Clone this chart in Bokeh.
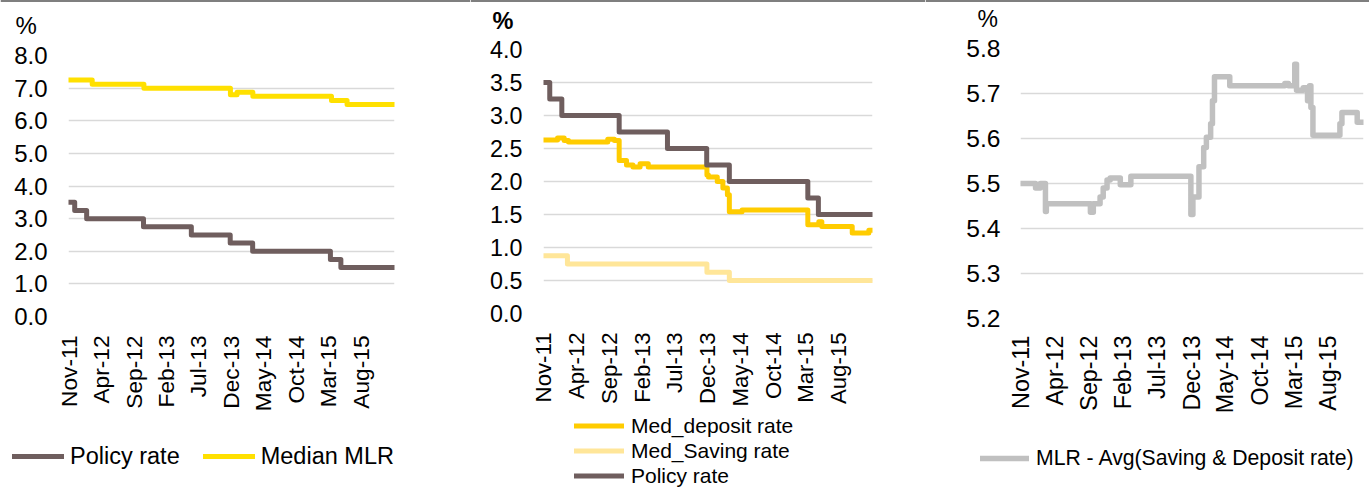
import math
import pandas as pd
from bokeh.plotting import figure
from bokeh.models import (Range1d, FixedTicker, Legend, LegendItem, Label, Span,
                          PrintfTickFormatter, DatetimeTickFormatter)
from bokeh.layouts import row, column
from bokeh.embed import file_html
from bokeh.resources import INLINE

FONT = "Liberation Sans"

# ---------------- data ----------------
start_date = "2011-11-01"
end_date = "2016-01-05"

tick_dates = ["2011-11-01", "2012-04-01", "2012-09-01", "2013-02-01", "2013-07-01",
              "2013-12-01", "2014-05-01", "2014-10-01", "2015-03-01", "2015-08-01"]
tick_labels = ["Nov-11", "Apr-12", "Sep-12", "Feb-13", "Jul-13",
               "Dec-13", "May-14", "Oct-14", "Mar-15", "Aug-15"]

policy_dates = ["2011-11-01", "2011-11-30", "2012-01-25", "2012-10-17", "2013-05-29",
                "2013-11-27", "2014-03-12", "2015-03-11", "2015-04-29"]
policy_rate = [3.5, 3.25, 3.0, 2.75, 2.5, 2.25, 2.0, 1.75, 1.5]

mlr_dates = ["2011-11-01", "2012-02-20", "2012-10-19", "2013-11-28", "2013-12-29",
             "2014-03-13", "2015-03-16", "2015-05-28"]
median_mlr = [7.25, 7.12, 7.0, 6.80, 6.87, 6.75, 6.62, 6.5]

dep_dates = ["2011-11-01", "2012-01-05", "2012-02-05", "2012-02-25", "2012-08-25",
             "2012-09-25", "2012-10-17", "2012-11-20", "2012-12-20", "2013-01-22",
             "2013-03-01", "2013-11-28", "2013-12-05", "2014-01-15", "2014-02-10",
             "2014-03-03", "2014-03-12", "2014-05-10", "2015-03-11", "2015-05-01",
             "2015-05-15", "2015-10-03", "2015-12-19"]
med_deposit = [2.63, 2.66, 2.62, 2.60, 2.64,
               2.62, 2.32, 2.25, 2.22, 2.27,
               2.22, 2.10, 2.07, 2.00, 1.90,
               1.80, 1.54, 1.57, 1.345, 1.39,
               1.32, 1.22, 1.26]

sav_dates = ["2011-11-01", "2012-02-20", "2013-11-28", "2014-03-12"]
med_saving = [0.875, 0.75, 0.625, 0.5]

spread_dates = ["2011-11-01", "2012-01-07", "2012-01-28", "2012-02-20", "2012-02-24",
                "2012-09-07", "2012-09-20", "2012-10-20", "2012-11-03", "2012-11-20",
                "2012-12-04", "2013-01-18", "2013-03-06", "2013-11-28", "2013-12-07",
                "2014-01-03", "2014-01-24", "2014-02-05", "2014-02-24", "2014-03-04",
                "2014-03-13", "2014-05-20", "2015-01-20", "2015-02-05", "2015-03-05",
                "2015-03-13", "2015-04-12", "2015-05-01", "2015-05-10", "2015-05-16",
                "2015-05-25", "2015-09-22", "2015-10-01", "2015-12-08"]
mlr_spread = [5.50, 5.49, 5.50, 5.438, 5.455,
              5.436, 5.455, 5.47, 5.49, 5.508,
              5.512, 5.497, 5.516, 5.431, 5.47,
              5.537, 5.58, 5.603, 5.633, 5.684,
              5.737, 5.717, 5.722, 5.717, 5.765,
              5.707, 5.713, 5.684, 5.717, 5.669,
              5.607, 5.633, 5.658, 5.636]

# ---------------- styles ----------------
POLICY_C = "#6F5E5E"
MLR_C = "#FFE000"
DEP_C = "#FFCC00"
SAV_C = "#FFE699"
SPREAD_C = "#C0C0C0"
GRID_C = "#D9D9D9"


def ms(d):
    return pd.Timestamp(d).timestamp() * 1000.0


def steps(dates, vals):
    xs = [ms(d) for d in dates] + [ms(end_date)]
    ys = list(vals) + [vals[-1]]
    return xs, ys


def blank_fig(width, height):
    p = figure(width=width, height=height, output_backend="svg", toolbar_location=None,
               x_range=Range1d(0, 1), y_range=Range1d(0, 1),
               x_axis_location=None, y_axis_location=None,
               min_border_left=0, min_border_right=0, min_border_top=0, min_border_bottom=0)
    p.grid.visible = False
    p.outline_line_color = None
    p.background_fill_color = "white"
    p.border_fill_color = "white"
    return p


def make_fig(width, height, bl, br, bt, bb, y0, y1, yticks,
             ytick_size, xtick_size, y_standoff, x_standoff):
    p = figure(width=width, height=height, output_backend="svg", toolbar_location=None,
               x_axis_type="datetime",
               x_range=Range1d(ms(start_date), ms(end_date)),
               y_range=Range1d(y0, y1),
               min_border_left=bl, min_border_right=br,
               min_border_top=bt, min_border_bottom=bb)
    p.outline_line_color = None
    p.background_fill_color = "white"
    p.border_fill_color = "white"
    yt = FixedTicker(ticks=yticks)
    p.yaxis.ticker = yt
    p.ygrid.ticker = yt
    p.yaxis.formatter = PrintfTickFormatter(format="%.1f")
    p.xgrid.grid_line_color = None
    p.ygrid.grid_line_color = GRID_C
    p.ygrid.grid_line_width = 1.5
    xt = FixedTicker(ticks=[ms(d) for d in tick_dates])
    p.xaxis.ticker = xt
    p.xaxis.formatter = DatetimeTickFormatter(days="%b-%y", months="%b-%y", years="%b-%y")
    p.xaxis.major_label_overrides = {ms(d): lab for d, lab in zip(tick_dates, tick_labels)}
    p.xaxis.major_label_orientation = math.pi / 2
    for ax, size, so in ((p.xaxis, xtick_size, x_standoff), (p.yaxis, ytick_size, y_standoff)):
        ax.axis_line_color = None
        ax.major_tick_line_color = None
        ax.minor_tick_line_color = None
        ax.major_tick_in = 0
        ax.major_tick_out = 0
        ax.minor_tick_in = 0
        ax.minor_tick_out = 0
        ax.major_label_standoff = so
        ax.major_label_text_font = FONT
        ax.major_label_text_font_size = size
        ax.major_label_text_color = "black"
    return p


def legend_fig(width, height, entries, loc, orientation, size, gw, gh, standoff, spacing, lw):
    # legend swatches only: their glyphs sit outside the visible range
    p = blank_fig(width, height)
    items = []
    for label, color in entries:
        r = p.line(x=[-5, -4], y=[-5, -5], line_width=lw, line_color=color, line_cap="round")
        items.append(LegendItem(label=label, renderers=[r]))
    lg = Legend(items=items, orientation=orientation, location=loc)
    lg.padding = 0
    lg.margin = 0
    lg.border_line_color = None
    lg.background_fill_alpha = 0
    lg.glyph_width = gw
    lg.glyph_height = gh
    lg.label_height = gh
    lg.label_standoff = standoff
    lg.spacing = spacing
    lg.label_text_font = FONT
    lg.label_text_font_size = size
    lg.label_text_color = "black"
    p.add_layout(lg)
    return p


def pct_fig(width, height, x, y, size, bold=False):
    p = blank_fig(width, height)
    # thin black rule along the top edge of the picture
    p.add_layout(Span(location=1, dimension="width", line_color="black", line_width=2))
    p.add_layout(Label(x=x, y=y, x_units="screen", y_units="screen", text="%",
                       text_font=FONT, text_font_size=size,
                       text_font_style="bold" if bold else "normal",
                       text_baseline="middle", text_align="left", text_color="black"))
    return p


# ---------------- panel 1 ----------------
W1 = 470
t1 = pct_fig(W1, 40, 15, 15, "24px")
p1 = make_fig(W1, 376, 68, 76, 15, 100, 0, 8, [0, 1, 2, 3, 4, 5, 6, 7, 8],
              "24px", "22.7px", 21, 19)
x, y = steps(policy_dates, policy_rate)
p1.step(x, y, mode="after", line_width=5, line_color=POLICY_C,
        line_join="round", line_cap="round")
x, y = steps(mlr_dates, median_mlr)
p1.step(x, y, mode="after", line_width=5, line_color=MLR_C,
        line_join="round", line_cap="round")
l1 = legend_fig(W1, 74, [("Policy rate", POLICY_C), ("Median MLR", MLR_C)],
                (12, 20), "horizontal", "23.5px", 52, 28, 6, 23, 5)

# ---------------- panel 2 ----------------
W2 = 455
t2 = pct_fig(W2, 35, 22, 15, "23.5px", bold=True)
p2 = make_fig(W2, 374, 73, 53, 14, 95, 0, 4, [0, 0.5, 1, 1.5, 2, 2.5, 3, 3.5, 4],
              "23.3px", "22.2px", 21, 19)
x, y = steps(dep_dates, med_deposit)
p2.step(x, y, mode="after", line_width=5, line_color=DEP_C,
        line_join="round", line_cap="round")
x, y = steps(sav_dates, med_saving)
p2.step(x, y, mode="after", line_width=5, line_color=SAV_C,
        line_join="round", line_cap="round")
x, y = steps(policy_dates, policy_rate)
p2.step(x, y, mode="after", line_width=5, line_color=POLICY_C,
        line_join="round", line_cap="round")
l2 = legend_fig(W2, 81, [("Med_deposit rate", DEP_C), ("Med_Saving rate", SAV_C),
                         ("Policy rate", POLICY_C)],
                (104, 2), "vertical", "21px", 50, 25, 7, 0, 5)

# ---------------- panel 3 ----------------
W3 = 444
t3 = pct_fig(W3, 34, 52, 15.5, "23px")
p3 = make_fig(W3, 384, 95, 6, 14, 100, 5.2, 5.8, [5.2, 5.3, 5.4, 5.5, 5.6, 5.7, 5.8],
              "24.6px", "23.3px", 20, 17)
x, y = steps(spread_dates, mlr_spread)
p3.step(x, y, mode="after", line_width=5.5, line_color=SPREAD_C,
        line_join="round", line_cap="round")
l3 = legend_fig(W3, 72, [("MLR - Avg(Saving & Deposit rate)", SPREAD_C)],
                (55, 20), "horizontal", "21.2px", 49, 24, 7, 0, 5.5)

layout = row(column(t1, column(p1), l1),
             column(t2, column(p2), l2),
             column(t3, column(p3), l3))
open("out.html", "w").write(file_html(layout, INLINE))
